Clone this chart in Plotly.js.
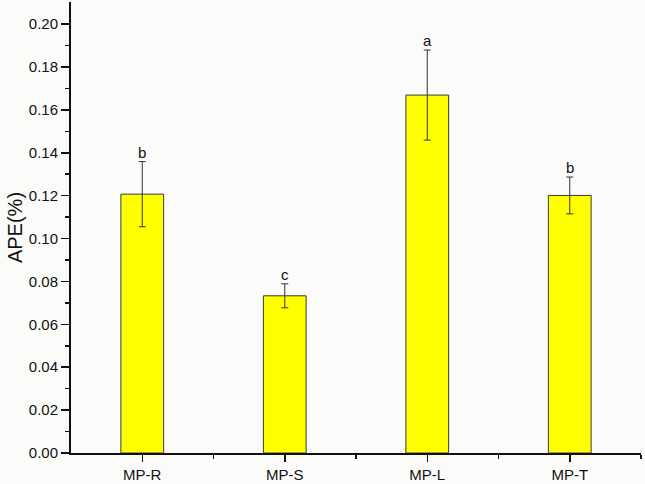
<!DOCTYPE html>
<html>
<head>
<meta charset="utf-8">
<script src="https://cdn.plot.ly/plotly-3.0.1.min.js"></script>
<style>
html,body{margin:0;padding:0;background:#fbfbfa;}
#chart{width:645px;height:484px;}
</style>
</head>
<body>
<div id="chart"></div>
<script>
var categories = ["MP-R", "MP-S", "MP-L", "MP-T"];
var apeValues = [0.1207, 0.0733, 0.1669, 0.1201];
var apeErrors = [0.0152, 0.0056, 0.0210, 0.0086];
var groupLetters = ["b", "c", "a", "b"];
var yTickVals = [0, 0.02, 0.04, 0.06, 0.08, 0.10, 0.12, 0.14, 0.16, 0.18, 0.20];
var yTickText = ["0.00","0.02","0.04","0.06","0.08","0.10","0.12","0.14","0.16","0.18","0.20"];

var xIdx = categories.map(function(_, i){ return i; });

var trace = {
  type: "bar",
  x: xIdx,
  y: apeValues,
  width: 0.3,
  marker: {color: "#ffff00", line: {color: "#3a3a3a", width: 1}},
  error_y: {type: "data", array: apeErrors, visible: true, color: "#333333", thickness: 1, width: 3.5},
  hoverinfo: "none"
};

var annotations = categories.map(function(c, i){
  return {
    x: i, y: apeValues[i] + apeErrors[i],
    xref: "x", yref: "y",
    text: groupLetters[i],
    showarrow: false,
    yanchor: "bottom",
    yshift: -1,
    font: {family: "Liberation Sans, Arial, sans-serif", size: 15, color: "#111"}
  };
});

var layout = {
  width: 645, height: 484,
  margin: {l: 71, r: 4, t: 2, b: 31, pad: 0},
  paper_bgcolor: "#fbfbfa",
  plot_bgcolor: "#fbfbfa",
  showlegend: false,
  font: {family: "Liberation Sans, Arial, sans-serif", size: 15, color: "#111"},
  xaxis: {
    range: [-0.5, 3.5],
    tickmode: "array",
    tickvals: xIdx,
    ticktext: categories,
    ticks: "outside", ticklen: 7, tickwidth: 1.5, tickcolor: "#111",
    showline: true, linecolor: "#111", linewidth: 2,
    showgrid: false, zeroline: false,
    tickfont: {size: 15},
    minor: {tickmode: "array", tickvals: [0.5, 1.5, 2.5, 3.5], ticks: "outside", ticklen: 4, tickwidth: 1.5, tickcolor: "#111", showgrid: false}
  },
  yaxis: {
    range: [0, 0.2103],
    tickmode: "array",
    tickvals: yTickVals,
    ticktext: yTickText,
    ticks: "outside", ticklen: 8, tickwidth: 1.5, tickcolor: "#111",
    showline: true, linecolor: "#111", linewidth: 2,
    showgrid: false, zeroline: false,
    tickfont: {size: 15},
    title: {text: "APE(%)", font: {size: 20}, standoff: 1},
    minor: {tickmode: "array", tickvals: [0.01,0.03,0.05,0.07,0.09,0.11,0.13,0.15,0.17,0.19], ticks: "outside", ticklen: 4, tickwidth: 1.5, tickcolor: "#111", showgrid: false}
  },
  annotations: annotations
};

Plotly.newPlot("chart", [trace], layout, {displayModeBar: false, staticPlot: true});
</script>
</body>
</html>
